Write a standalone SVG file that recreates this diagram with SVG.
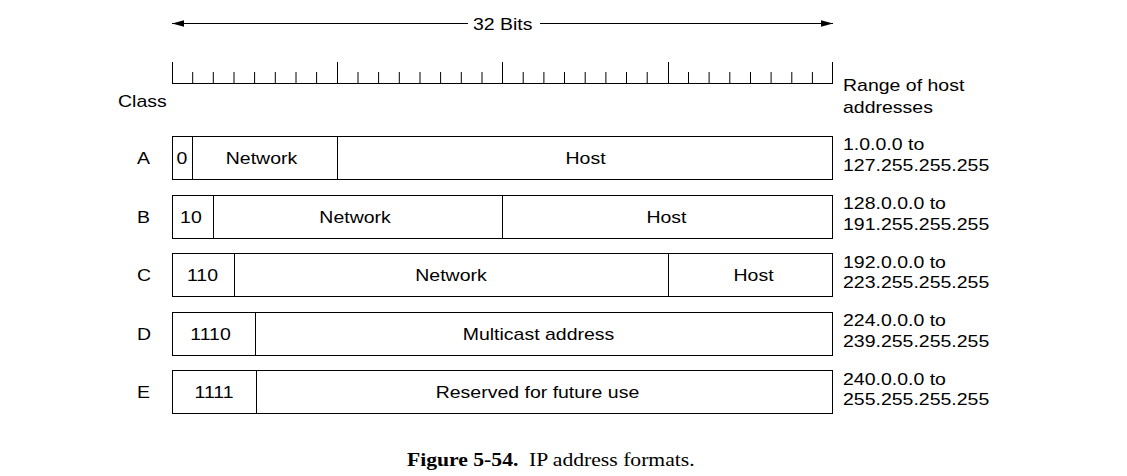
<svg xmlns="http://www.w3.org/2000/svg" width="1127" height="476" viewBox="0 0 1127 476">
<style>
.t{font-family:"Liberation Sans",Arial,sans-serif;font-size:17.4px;fill:#000}
.m{text-anchor:middle}
.box{fill:#fff;stroke:#000;stroke-width:1}
.ln{stroke:#000;stroke-width:1;fill:none}
.cap{font-family:"Liberation Serif","Times New Roman",serif;font-size:19px;fill:#000}
</style>
<defs>
<marker id="ah" markerWidth="12" markerHeight="8" refX="12" refY="4" orient="auto" markerUnits="userSpaceOnUse">
<path d="M0,0.8 L12,4 L0,7.2 Z" fill="#000"/>
</marker>
</defs>
<rect width="1127" height="476" fill="#fff"/>
<g id="connectors">
<line class="ln" x1="468" y1="23.5" x2="172" y2="23.5" marker-end="url(#ah)"/>
<line class="ln" x1="540" y1="23.5" x2="833" y2="23.5" marker-end="url(#ah)"/>
</g>
<g id="ruler" class="ln">
<path d="M172,83.5 H833"/>
<path d="M172.5,62 V83 M337.5,62 V83 M502.5,62 V83 M668.5,62 V83 M832.5,62 V83"/>
<path d="M192.7,72 V83 M213.3,72 V83 M234,72 V83 M254.6,72 V83 M275.3,72 V83 M296,72 V83 M316.6,72 V83 M358,72 V83 M378.6,72 V83 M399.3,72 V83 M420,72 V83 M440.6,72 V83 M461.3,72 V83 M482,72 V83 M523.2,72 V83 M543.9,72 V83 M564.5,72 V83 M585.2,72 V83 M605.9,72 V83 M626.5,72 V83 M647.2,72 V83 M688.5,72 V83 M709.1,72 V83 M729.8,72 V83 M750.5,72 V83 M771.1,72 V83 M791.8,72 V83 M812.4,72 V83"/>
</g>
<g id="labels" transform="scale(1.12,1)">
<text class="t" x="422.3" y="30">32 Bits</text>
<text class="t" x="105.4" y="107.5">Class</text>
<text class="t" x="752.7" y="91">Range of host</text>
<text class="t" x="752.7" y="113">addresses</text>
</g>
<g id="classA">
<rect class="box" x="172.5" y="136.5" width="660" height="43"/>
<path class="ln" d="M192.5,136.5 V179.5 M337.5,136.5 V179.5"/>
<g transform="scale(1.12,1)">
<text class="t m" x="128.1" y="164">A</text>
<text class="t m" x="162.5" y="164">0</text>
<text class="t m" x="233.5" y="164">Network</text>
<text class="t m" x="522.8" y="164">Host</text>
<text class="t" x="752.7" y="150.5">1.0.0.0 to</text>
<text class="t" x="752.7" y="171">127.255.255.255</text>
</g>
</g>
<g id="classB">
<rect class="box" x="172.5" y="195.5" width="660" height="43"/>
<path class="ln" d="M213.5,195.5 V238.5 M502.5,195.5 V238.5"/>
<g transform="scale(1.12,1)">
<text class="t m" x="128.1" y="223">B</text>
<text class="t m" x="170.5" y="223">10</text>
<text class="t m" x="317" y="223">Network</text>
<text class="t m" x="595.1" y="223">Host</text>
<text class="t" x="752.7" y="209.5">128.0.0.0 to</text>
<text class="t" x="752.7" y="230">191.255.255.255</text>
</g>
</g>
<g id="classC">
<rect class="box" x="172.5" y="253.5" width="660" height="43"/>
<path class="ln" d="M234.5,253.5 V296.5 M668.5,253.5 V296.5"/>
<g transform="scale(1.12,1)">
<text class="t m" x="128.6" y="281.5">C</text>
<text class="t m" x="180.8" y="281.5">110</text>
<text class="t m" x="402.7" y="281.5">Network</text>
<text class="t m" x="672.8" y="281.5">Host</text>
<text class="t" x="752.7" y="268">192.0.0.0 to</text>
<text class="t" x="752.7" y="288.5">223.255.255.255</text>
</g>
</g>
<g id="classD">
<rect class="box" x="172.5" y="312.5" width="660" height="43"/>
<path class="ln" d="M255.5,312.5 V355.5"/>
<g transform="scale(1.12,1)">
<text class="t m" x="128.6" y="340">D</text>
<text class="t m" x="188" y="340">1110</text>
<text class="t m" x="480.8" y="340">Multicast address</text>
<text class="t" x="752.7" y="326.5">224.0.0.0 to</text>
<text class="t" x="752.7" y="347">239.255.255.255</text>
</g>
</g>
<g id="classE">
<rect class="box" x="172.5" y="370.5" width="660" height="43"/>
<path class="ln" d="M256.5,370.5 V413.5"/>
<g transform="scale(1.12,1)">
<text class="t m" x="128.1" y="398">E</text>
<text class="t m" x="191.1" y="398">1111</text>
<text class="t m" x="479.9" y="398">Reserved for future use</text>
<text class="t" x="752.7" y="385">240.0.0.0 to</text>
<text class="t" x="752.7" y="405.5">255.255.255.255</text>
</g>
</g>
<g id="caption" transform="scale(1.14,1)">
<text class="cap" x="357" y="466" font-weight="bold">Figure 5-54.</text>
<text class="cap" x="464" y="466">IP address formats.</text>
</g>
</svg>
